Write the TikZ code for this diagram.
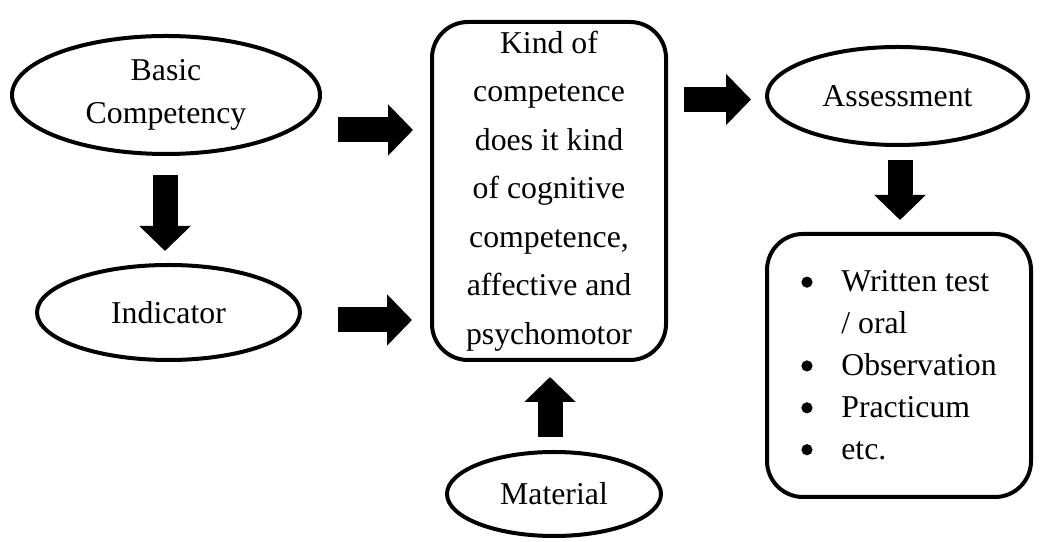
\documentclass[tikz,border=0pt]{standalone}
\usepackage{fontspec}
\setmainfont{Liberation Serif}
\usetikzlibrary{shapes.geometric,arrows.meta}
\newcommand{\itembul}{\makebox[1cm][l]{\tikz[baseline=-0.31em]\fill (0,0) circle (0.14cm);}}

\begin{document}
\begin{tikzpicture}[line join=round,
  every node/.style={font=\fontsize{22.6}{30}\selectfont},
  oval/.style={ellipse, draw, line width=1mm, inner sep=0pt, align=center},
  box/.style={draw, line width=1mm, rounded corners=9mm, inner sep=0pt},
  fatarrow/.style={line width=6.25mm, -{Triangle[length=6.25mm, width=12.5mm]}}]
  \useasboundingbox (0,0) rectangle (26.075,13.55);

  \node[oval, minimum width=7.7cm, minimum height=2.95cm] (basic) at (4.15,11.175) {Basic\\Competency};
  \node[oval, minimum width=6.575cm, minimum height=2.375cm] (indicator) at (4.2125,5.7375) {Indicator};
  \node[box, minimum width=5.85cm, minimum height=8.45cm, align=center,
        font=\fontsize{22.6}{34.5}\selectfont] (kind) at (13.725,8.775)
    {Kind of\\competence\\does it kind\\of cognitive\\competence,\\affective and\\psychomotor};
  \node[oval, minimum width=5.35cm, minimum height=2.1cm] (material) at (13.85,1.2) {Material};
  \node[oval, minimum width=6.525cm, minimum height=2.45cm] (assess) at (22.4375,11.15) {Assessment};
  \node[box, minimum width=6.6cm, minimum height=6.575cm, align=left,
        font=\fontsize{22.6}{29.8}\selectfont] (methods) at (22.475,4.4125)
    {\itembul Written test\\\hspace*{1cm}/ oral\\\itembul Observation\\\itembul Practicum\\\itembul etc.};

  \coordinate (bcdown1) at (4.125,9.175);
  \coordinate (bcdown2) at (4.125,7.275);
  \coordinate (bcright1) at (8.45,10.3);
  \coordinate (bcright2) at (10.325,10.3);
  \coordinate (indright1) at (8.45,5.55);
  \coordinate (indright2) at (10.3,5.55);
  \coordinate (matup1) at (13.75,2.625);
  \coordinate (matup2) at (13.75,4.125);
  \coordinate (kindright1) at (17.1,11.0625);
  \coordinate (kindright2) at (18.775,11.0625);
  \coordinate (asdown1) at (22.5,9.55);
  \coordinate (asdown2) at (22.5,8.05);

  \draw[fatarrow] (bcdown1) -- (bcdown2);
  \draw[fatarrow] (bcright1) -- (bcright2);
  \draw[fatarrow] (indright1) -- (indright2);
  \draw[fatarrow] (matup1) -- (matup2);
  \draw[fatarrow] (kindright1) -- (kindright2);
  \draw[fatarrow] (asdown1) -- (asdown2);
\end{tikzpicture}
\end{document}
